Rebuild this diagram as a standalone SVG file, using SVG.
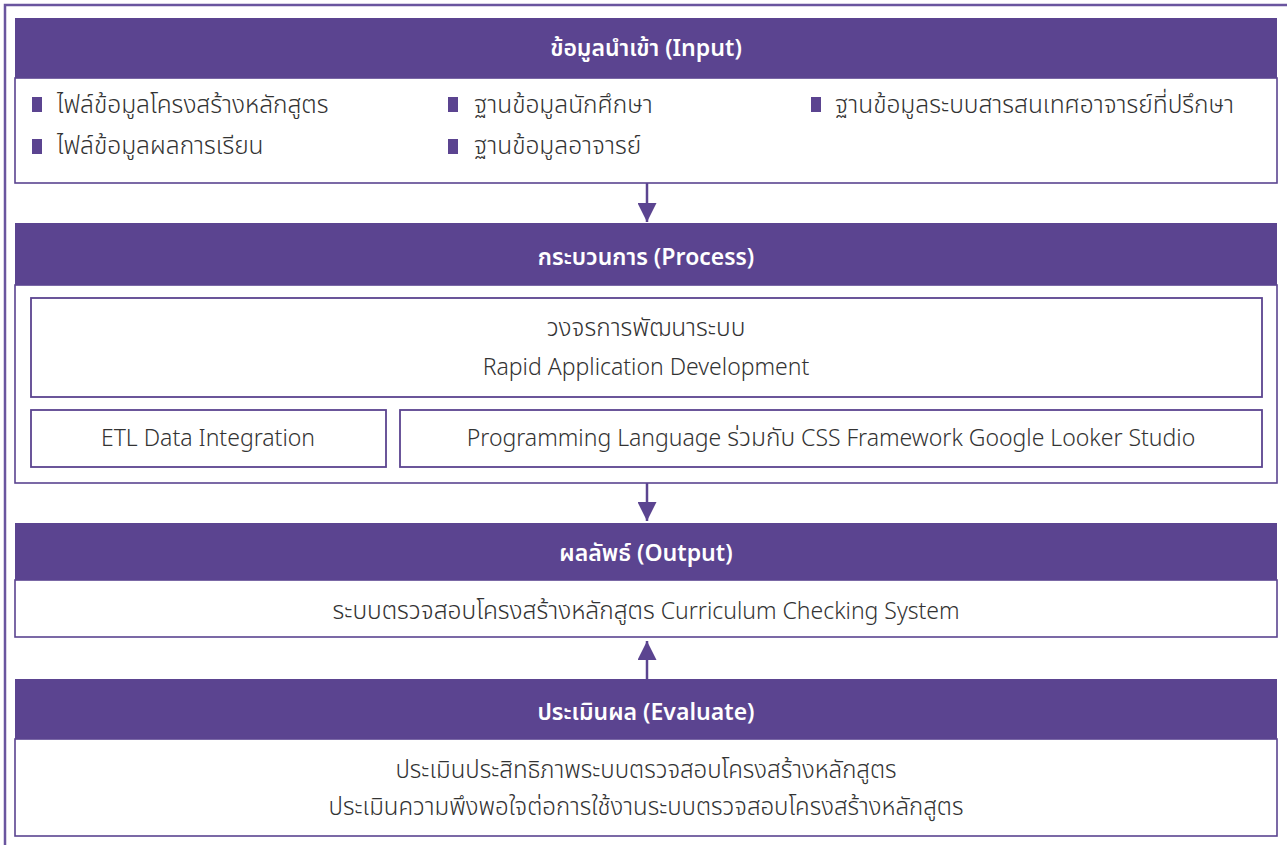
<svg xmlns="http://www.w3.org/2000/svg" width="1287" height="845" viewBox="0 0 1287 845">
  <defs>
    <style>
      .frame { fill: none; stroke: #6a559f; stroke-width: 2.5; }
      .head { fill: #5b4490; }
      .body { fill: #ffffff; stroke: #5b4490; stroke-width: 1.6; }
      .box { fill: #ffffff; stroke: #5b4490; stroke-width: 1.8; }
      .bullet { fill: #5b4490; }
      .htxt { font-family: "Noto Sans Thai", "Noto Sans", "DejaVu Sans", sans-serif; font-size: 23px; font-weight: 600; fill: #ffffff; text-anchor: middle; }
      .txt { font-family: "Noto Sans Thai", "Noto Sans", "DejaVu Sans", sans-serif; font-size: 23px; font-weight: 300; fill: #333333; }
      .th { font-size: 24.5px; }
      .ev { font-size: 24px; }
      .mid { text-anchor: middle; }
      .conn { stroke: #5b4490; stroke-width: 2.5; fill: none; }
    </style>
    <marker id="arrow" viewBox="0 0 10 10" refX="10" refY="5" markerWidth="19" markerHeight="19" markerUnits="userSpaceOnUse" orient="auto">
      <path d="M0,0 L10,5 L0,10 z" fill="#5b4490"/>
    </marker>
  </defs>

  <rect width="1287" height="845" fill="#ffffff"/>

  <!-- outer frame, open to the right and bottom -->
  <rect class="frame" x="5" y="5" width="1295" height="860"/>

  <!-- Input -->
  <g id="input">
    <rect class="body" x="15" y="78" width="1262" height="105"/>
    <rect class="head" x="15" y="18" width="1262" height="60"/>
    <text class="htxt" x="646" y="56">ข้อมูลนำเข้า (Input)</text>
    <rect class="bullet" x="32" y="97" width="10" height="15"/>
    <text class="txt th" x="57" y="113">ไฟล์ข้อมูลโครงสร้างหลักสูตร</text>
    <rect class="bullet" x="32" y="139" width="10" height="15"/>
    <text class="txt th" x="57" y="154">ไฟล์ข้อมูลผลการเรียน</text>
    <rect class="bullet" x="448" y="97" width="10" height="15"/>
    <text class="txt th" x="474" y="113">ฐานข้อมูลนักศึกษา</text>
    <rect class="bullet" x="448" y="139" width="10" height="15"/>
    <text class="txt th" x="474" y="154">ฐานข้อมูลอาจารย์</text>
    <rect class="bullet" x="811" y="97" width="10" height="15"/>
    <text class="txt th" x="835" y="113">ฐานข้อมูลระบบสารสนเทศอาจารย์ที่ปรึกษา</text>
  </g>

  <!-- Process -->
  <g id="process">
    <rect class="body" x="15" y="285" width="1262" height="198"/>
    <rect class="head" x="15" y="223" width="1262" height="62"/>
    <text class="htxt" x="646" y="265">กระบวนการ (Process)</text>
    <g id="rad">
      <rect class="box" x="31" y="298" width="1231" height="99"/>
      <text class="txt th mid" x="646" y="336">วงจรการพัฒนาระบบ</text>
      <text class="txt mid" x="646" y="375">Rapid Application Development</text>
    </g>
    <g id="etl">
      <rect class="box" x="31" y="410" width="355" height="57"/>
      <text class="txt mid" x="208" y="446">ETL Data Integration</text>
    </g>
    <g id="lang">
      <rect class="box" x="400" y="410" width="862" height="57"/>
      <text class="txt mid" x="831" y="446">Programming Language <tspan class="th">ร่วมกับ</tspan> CSS Framework Google Looker Studio</text>
    </g>
  </g>

  <!-- Output -->
  <g id="output">
    <rect class="body" x="15" y="580" width="1262" height="57"/>
    <rect class="head" x="15" y="523" width="1262" height="57"/>
    <text class="htxt" x="646" y="561">ผลลัพธ์ (Output)</text>
    <text class="txt mid" x="646" y="619"><tspan class="th">ระบบตรวจสอบโครงสร้างหลักสูตร</tspan> Curriculum Checking System</text>
  </g>

  <!-- Evaluate -->
  <g id="evaluate">
    <rect class="body" x="15" y="739" width="1262" height="97"/>
    <rect class="head" x="15" y="679" width="1262" height="60"/>
    <text class="htxt" x="646" y="720">ประเมินผล (Evaluate)</text>
    <text class="txt ev mid" x="646" y="778">ประเมินประสิทธิภาพระบบตรวจสอบโครงสร้างหลักสูตร</text>
    <text class="txt ev mid" x="646" y="815">ประเมินความพึงพอใจต่อการใช้งานระบบตรวจสอบโครงสร้างหลักสูตร</text>
  </g>

  <!-- connectors -->
  <g id="connectors">
    <line class="conn" x1="647" y1="183" x2="647" y2="222" marker-end="url(#arrow)"/>
    <line class="conn" x1="647" y1="483" x2="647" y2="521" marker-end="url(#arrow)"/>
    <line class="conn" x1="647" y1="679" x2="647" y2="641" marker-end="url(#arrow)"/>
  </g>
</svg>
